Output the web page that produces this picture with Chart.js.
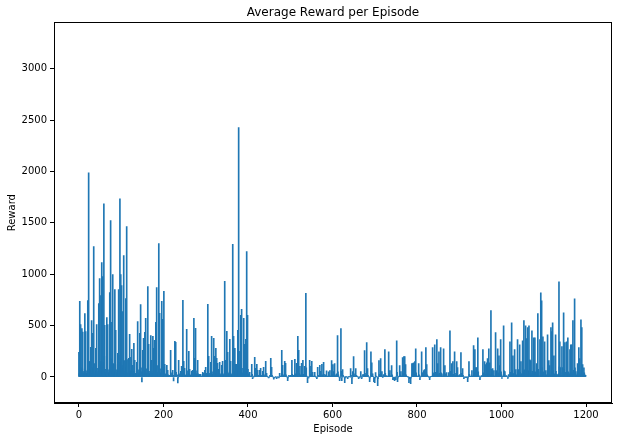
<!DOCTYPE html>
<html>
<head>
<meta charset="utf-8">
<title>Average Reward per Episode</title>
<script src="https://cdn.jsdelivr.net/npm/chart.js@4.4.1/dist/chart.umd.min.js"></script>
<style>
    html, body { margin: 0; padding: 0; background: #fff; }
    #chart { display: block; }
</style>
</head>
<body>
<canvas id="chart" width="618" height="441"></canvas>
<script>
// one value per episode, 0..1199
const rewards = [
    240,30, 735,120, 511,90,60, 472,80, 437,40, 20,55,10, 618,70, 443,35, 15,60,25, 744,110, 1987,140,70, 152,40, 288,65, 550,90,30, 424,55, 1268,130, 30,10,45, 278,60, 511,85, 25,50,15, 715,100, 958,150,80, 793,120, 1113,160, 977,140,90, 1686,200, 502,75, 40,15,30, 579,80, 511,70,45,
    35,20, 822,110, 1521,180,95, 531,60, 997,130, 25,50,30, 851,120, 453,70, 45,20,35, 230,50, 851,140,60, 1734,210, 997,150, 890,110,75, 637,90, 1181,160, 30,55,20, 764,100, 1463,170, 40,15,25, 181,45, 414,60,35, 191,40, 269,50, 113,30,20, 327,55, 162,35, 20,10,30, 142,25, 540,70,40,
    25,15, 424,60, 705,90,50, -49,10, 259,45, 375,60,30, 434,65, 570,80, 30,15,40, 880,120, 317,55,25, 35,20, 404,60, 162,40,20, 395,55, 278,45, 356,60,35, 531,70, 870,110, 20,45,15, 1297,150, 619,80,40, 30,10, 735,95, 560,70,35, 833,100, 123,30, 15,5,20, 113,25, 65,20,10,
    10,5, 16,5, 259,40,15, 10,20, 65,15, -39,5,10, 347,50, 337,45, 15,5,20, -58,-10, 162,30,15, 10,20, 55,15, 104,25,10, 745,90, 152,30, 84,20,10, 16,5, 463,60, 10,20,5, 249,35, 75,20,10, 15,5, 55,15, 65,20,10, 570,70, 181,35, 473,60,30, 15,25, 162,30,15,
    10,5, 26,5, 26,10,5, 5,10, 45,10, 36,10,5, 65,15, 94,20, 36,10,15, 706,80, 201,35,15, 10,20, 143,30, 395,50,25, 15,5, 376,50, 201,35,15, 279,40, 181,30, 133,25,10, 75,15, 143,30,10, 15,5, 113,25, 152,30,15, 10,20, 930,110, 162,30,15, 444,55, 240,40,20,
    15,25, 366,45, 152,30,10, 20,10, 1290,140, 395,55,25, 279,40, 123,25, 123,20,10, 454,60, 2427,250,120, 30,50, 599,80, 658,85,40, 20,35, 570,70, 317,45,20, 366,50, 1221,140, 599,75,30, 16,5, 45,10,5, 5,10, 123,25, -16,5,-5, 10,5, 191,30, 84,15,5, 123,20, 65,15,5,
    5,10, 65,10, 84,15,5, 10,5, 55,10, 94,20,5, 10,5, 152,25, 36,10,5, 5,-5, -10,-5,5, 16,5, 181,30, 94,15,5, 5,-5, -20,-5, -10,-5,5, 5,-5, -16,-5, 5,-5,5, -10,-5, 36,10,5, 5,10, 259,35, 113,20,5, 10,5, 152,25, 133,20,10, 5,-5, -36,-10,5,
    16,5, 5,10, 16,5,5, 162,25, 10,5, 16,5,10, 172,30, 10,5, 133,20,10, 395,50, 259,35,15, 104,20, 10,5, 133,20,10, 162,25, 10,5, 104,20,10, 813,90, 10,5, -55,-10,5, -10,5, 162,25,10, 104,20, 152,25, 45,10,5, 5,10, 45,10, 5,-5,5, -16,-5, 94,15,5,
    10,5, 113,20, 55,10,5, 123,20, 10,5, 143,25,10, 5,10, 20,5, 60,10,5, 5,10, 50,10,5, 62,10, 5,10, 159,25,10, 120,20, 52,10, 130,20,10, 5,10, 32,5, 402,50,20, 5,-5, -36,-10,5, 470,55, -36,-5, 71,15,5, 5,-5, -55,-10, 3,-5,5, 5,-5, -16,-5,5,
    3,5, 5,-5, 81,15,5, -65,-10, 52,10, 198,30,10, 5,10, 81,15, 13,5,5, 5,-5, -16,-5,5, -6,5, 52,10, -16,-5,5, 23,5, 23,5, 256,35,15, 13,5, 334,45, 81,15,5, 5,-5, -45,-10,5, 246,35, 139,20, 32,5,5, -45,-10, -55,-10, 42,10,5, 5,-5, -84,-15,5,
    159,25, 3,5, 178,30,10, 52,10, -6,5, 23,5,5, 266,35, 3,5, 13,5,5, 5,10, 246,35,15, 62,10, 5,10, 110,20,10, -26,-5, -26,-5, -36,-10,5, -26,-5, 353,45, -45,-10,5, 5,10, 110,20,10, 52,10, 5,10, 188,30,10, 198,30, 198,30, 120,20,10, 3,5, 5,-5,5,
    -55,-10, -16,-5, -65,-10,5, 130,20, 130,20, 139,25,10, 149,25, 275,40, 13,5,5, 5,10, 130,20,10, -26,-5, 5,10, 246,35,15, 42,10, 62,10, 71,15,5, 285,40, 120,20, 5,10,5, -5,5, -26,-5,5, 3,5, 5,10, 285,40,15, 32,5, 314,45, 42,10,5, 363,50, 130,20,10,
    246,35, 10,5, 285,40,15, 32,5, 5,10, 275,40,15, 110,20, 32,5, 42,10,5, 5,10, 42,10,5, 450,55, 10,5, 130,20,10, 149,25, 10,5, 246,35,15, 13,5, 149,25, 91,15,5, 5,10, 23,5,5, 237,35, 10,5, 81,15,5, -16,-5, 5,-5, -6,5,-5, -6,5, -45,-10,5,
    149,25, 10,5, 5,10,5, 62,10, 10,5, 305,45,15, 266,40, 91,15, 91,15,5, 382,50, 13,5,5, -26,-5, 5,10, 13,5,5, 266,40, 10,5, 149,25,10, 120,20, 139,20, 178,30,10, 275,40, 139,20,10, 645,75, 10,20, 81,15,5, 62,10, 10,5, 431,55,20, 62,10, 275,40,15,
    207,30, 110,20, 363,50,20, -13,5, 10,5, 499,60,25, 52,10, 10,5, 13,5,5, -13,-5, 23,5,5, 343,45, 42,10, 528,65,25, 207,30, 20,35, 266,40,15, 71,15, 20,10, 363,50,20, 71,15, 314,45,15, 149,25, 20,35, 353,50,20, 548,70, 30,15, 499,65,25, 373,50, 480,60,25,
    499,60, 168,30, 159,30,10, 450,55, 25,15, 382,50,20, 382,50, 20,35, 130,25,10, 616,75, 13,5,5, 363,50, 820,95, 742,90,40, 392,50, 25,15, 343,45,20, 62,10, 20,10, 411,55,20, 159,25, 110,20,10, 480,60, 441,55, 528,65,25, 207,30, 25,15, 411,55,20, 23,5, 20,10,30,
    927,100, 343,45, 91,15,5, 295,40, 91,15, 625,75,30, 334,45, 20,30, 343,45,20, 382,50, 25,15,30, 266,40, 314,45, 314,45,20, 548,65, 23,5, 761,90,35, 52,10, 20,10, 130,25,10, 285,40, 178,30,10, 557,65, 480,60, 120,20,10,
    90,40,20,10,15
];
const episodes = rewards.map((r, i) => i);

const xTicks = [0, 200, 400, 600, 800, 1000, 1200];
const yTicks = [0, 500, 1000, 1500, 2000, 2500, 3000];
const xRange = [-59, 1261.5];
const yRange = [-253, 3450];

const font = 'DejaVu Sans';

const frame = {
    id: 'frame',
    afterDatasetsDraw(chart) {
        const { ctx, chartArea: a } = chart;
        const l = Math.round(a.left) + 0.5, r = Math.round(a.right) - 0.5;
        const t = Math.round(a.top) + 0.5, b = Math.round(a.bottom) - 0.5;
        ctx.save();
        ctx.strokeStyle = '#000';
        ctx.lineWidth = 1;
        ctx.strokeRect(l, t, r - l, b - t);
        ctx.restore();
    }
};

new Chart(document.getElementById('chart'), {
    type: 'bar',
    data: {
        datasets: [{
            data: episodes.map((e, i) => ({ x: e, y: rewards[i] })),
            backgroundColor: '#1f77b4',
            borderWidth: 0,
            barThickness: 1
        }]
    },
    options: {
        responsive: false,
        animation: false,
        layout: { padding: { left: 0, right: 6, top: 0, bottom: 0 } },
        plugins: {
            legend: { display: false },
            tooltip: { enabled: false },
            title: {
                display: true,
                text: 'Average Reward per Episode',
                color: '#000',
                fullSize: false,
                font: { family: font, size: 12, weight: 'normal' },
                padding: { top: 6, bottom: 2 }
            }
        },
        scales: {
            x: {
                type: 'linear',
                offset: false,
                min: xRange[0],
                max: xRange[1],
                afterBuildTicks: s => { s.ticks = xTicks.map(v => ({ value: v })); },
                afterFit: s => { s.height = 38; },
                ticks: {
                    color: '#000',
                    autoSkip: false,
                    maxRotation: 0,
                    padding: 2,
                    font: { family: font, size: 10 },
                    callback: v => String(v)
                },
                grid: { offset: false, drawOnChartArea: false, drawTicks: true, tickLength: 4, color: '#000' },
                border: { color: '#000' },
                title: {
                    display: true,
                    text: 'Episode',
                    color: '#000',
                    font: { family: font, size: 10 },
                    padding: { top: 0, bottom: 6 }
                }
            },
            y: {
                min: yRange[0],
                max: yRange[1],
                afterBuildTicks: s => { s.ticks = yTicks.map(v => ({ value: v })); },
                afterFit: s => { s.width = 54; },
                ticks: {
                    color: '#000',
                    padding: 3,
                    font: { family: font, size: 10 },
                    callback: v => String(v)
                },
                grid: { drawOnChartArea: false, drawTicks: true, tickLength: 4, color: '#000' },
                border: { color: '#000' },
                title: {
                    display: true,
                    text: 'Reward',
                    color: '#000',
                    font: { family: font, size: 10 },
                    padding: { top: 6, bottom: 0 }
                }
            }
        }
    },
    plugins: [frame]
});
</script>
</body>
</html>
